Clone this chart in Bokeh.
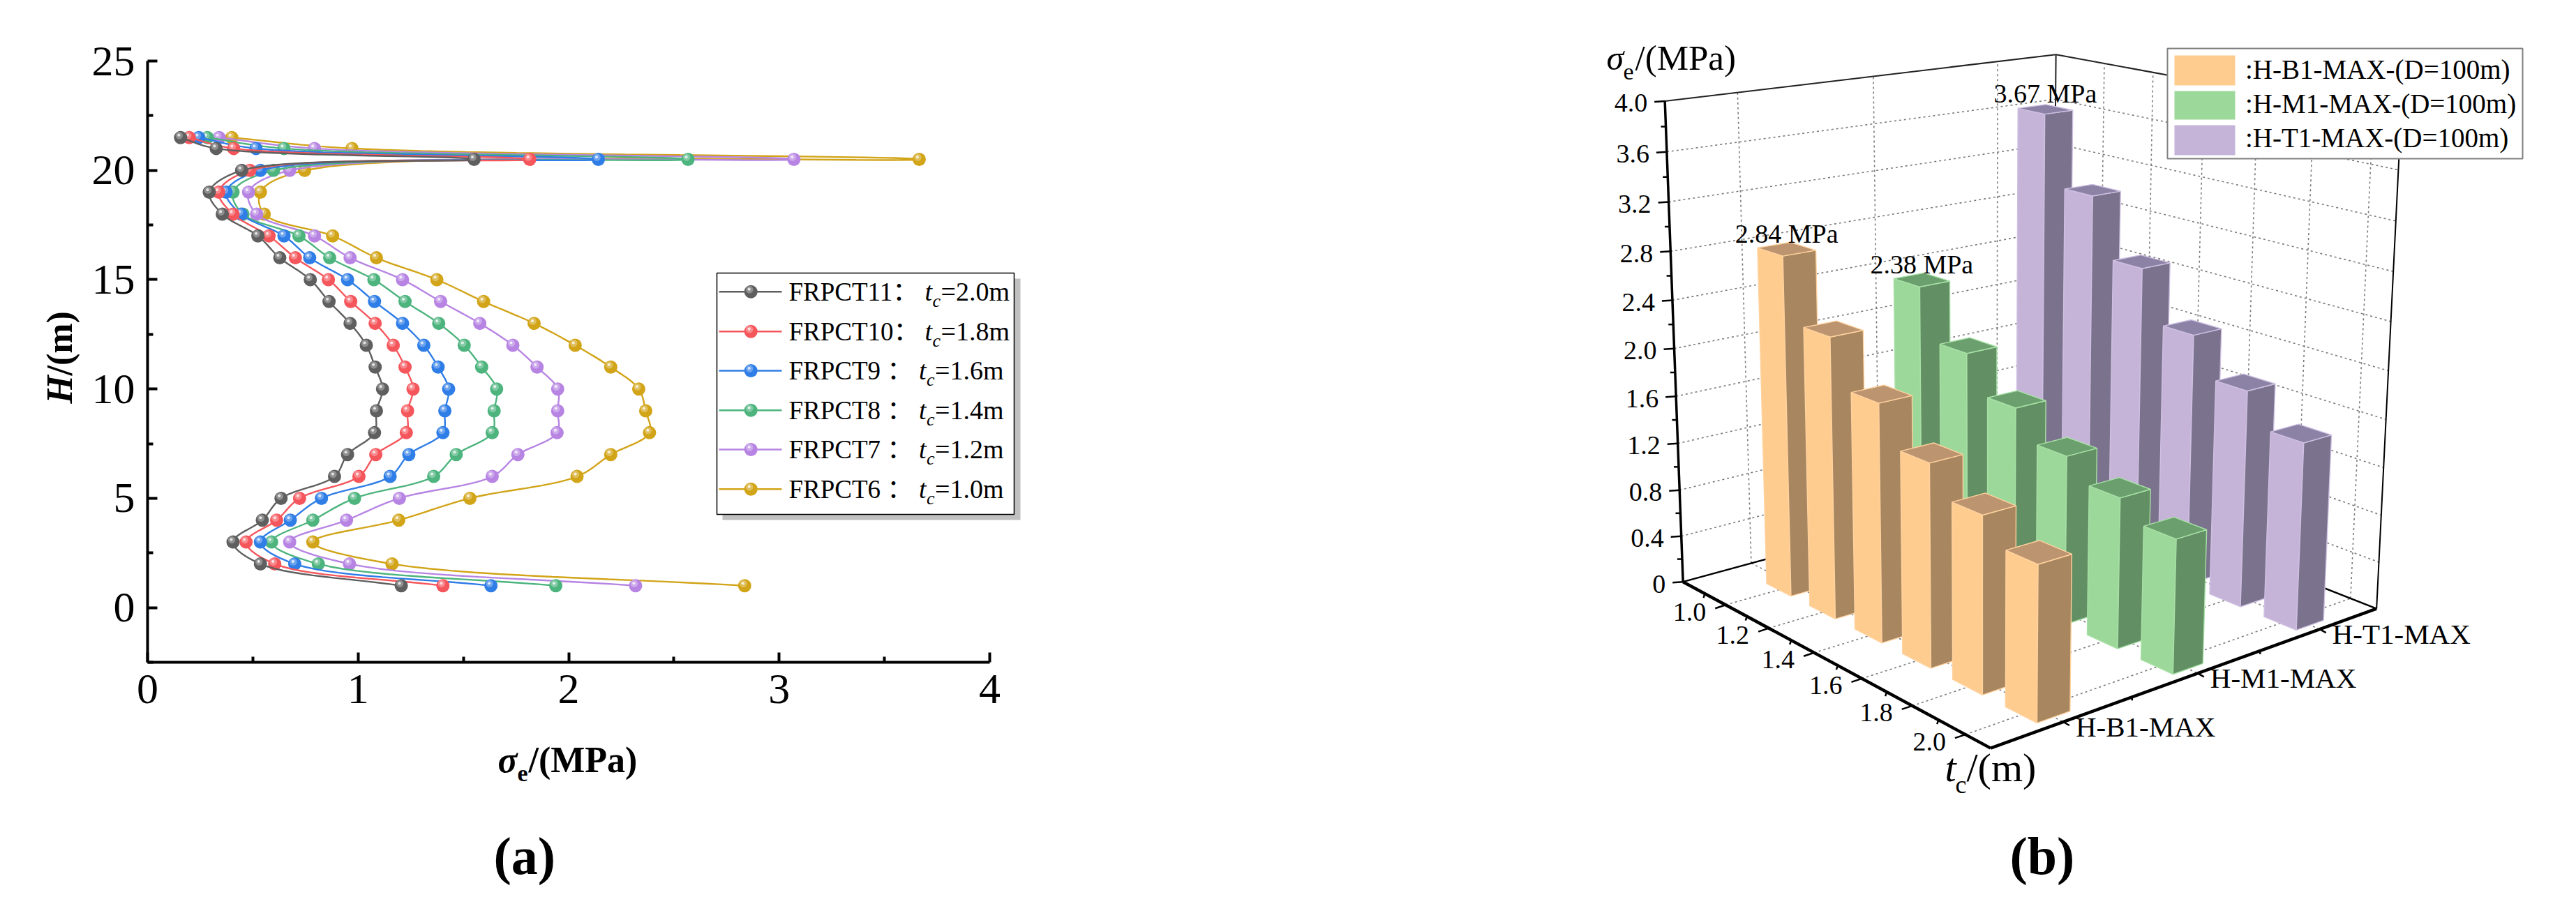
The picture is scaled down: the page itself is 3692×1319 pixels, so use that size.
import numpy as np
from bokeh.core.properties import value
from bokeh.embed import file_html
from bokeh.layouts import row
from bokeh.models import ColumnDataSource, FixedTicker, Range1d
from bokeh.plotting import figure
from bokeh.resources import INLINE

# ---------- data: panel (a) ----------
heights = [1, 2, 3, 4, 5, 6, 7, 8, 9, 10, 11, 12, 13, 14, 15, 16, 17, 18, 19, 20, 20.5, 21, 21.5]
frpct11 = [1.205, 0.536, 0.406, 0.545, 0.634, 0.888, 0.950, 1.078, 1.087, 1.116, 1.081, 1.039, 0.962, 0.862, 0.773, 0.628, 0.524, 0.355, 0.293, 0.447, 1.551, 0.326, 0.157]
frpct10 = [1.403, 0.604, 0.468, 0.613, 0.722, 1.004, 1.084, 1.229, 1.235, 1.261, 1.223, 1.167, 1.081, 0.965, 0.859, 0.702, 0.577, 0.406, 0.338, 0.486, 1.815, 0.409, 0.198]
frpct9 = [1.631, 0.699, 0.536, 0.678, 0.826, 1.152, 1.241, 1.403, 1.412, 1.430, 1.380, 1.312, 1.211, 1.078, 0.950, 0.770, 0.648, 0.444, 0.373, 0.536, 2.141, 0.515, 0.243]
frpct8 = [1.939, 0.811, 0.589, 0.785, 0.983, 1.359, 1.466, 1.637, 1.646, 1.658, 1.587, 1.504, 1.383, 1.223, 1.075, 0.865, 0.719, 0.453, 0.406, 0.598, 2.567, 0.648, 0.284]
frpct7 = [2.318, 0.959, 0.675, 0.945, 1.196, 1.637, 1.759, 1.945, 1.948, 1.948, 1.850, 1.735, 1.578, 1.392, 1.211, 0.962, 0.793, 0.518, 0.480, 0.675, 3.070, 0.793, 0.340]
frpct6 = [2.836, 1.161, 0.785, 1.193, 1.531, 2.040, 2.200, 2.384, 2.366, 2.333, 2.200, 2.031, 1.836, 1.596, 1.374, 1.087, 0.879, 0.554, 0.536, 0.746, 3.665, 0.971, 0.400]
series_names = ["FRPCT11：", "FRPCT10：", "FRPCT9 ：", "FRPCT8 ：", "FRPCT7 ：", "FRPCT6 ："]
series_tc = ["=2.0m", "=1.8m", "=1.6m", "=1.4m", "=1.2m", "=1.0m"]
series_colors = ["#5f5f5f", "#f5565c", "#2f7de6", "#4db47e", "#b784e3", "#d2a418"]
x_ticks = [0, 1, 2, 3, 4]
y_ticks = [0, 5, 10, 15, 20, 25]

# ---------- data: panel (b) ----------
tc_values = [1.0, 1.2, 1.4, 1.6, 1.8, 2.0]
tc_labels = ["1.0", "1.2", "1.4", "1.6", "1.8", "2.0"]
bar_groups = ["H-B1-MAX", "H-M1-MAX", "H-T1-MAX"]
h_b1 = [2.84, 2.32, 1.94, 1.63, 1.40, 1.21]
h_m1 = [2.38, 1.95, 1.64, 1.40, 1.23, 1.08]
h_t1 = [3.67, 3.07, 2.57, 2.14, 1.82, 1.55]
legend_b = [":H-B1-MAX-(D=100m)", ":H-M1-MAX-(D=100m)", ":H-T1-MAX-(D=100m)"]
z_ticks = [0, 0.4, 0.8, 1.2, 1.6, 2.0, 2.4, 2.8, 3.2, 3.6, 4.0]
z_labels = ["0", "0.4", "0.8", "1.2", "1.6", "2.0", "2.4", "2.8", "3.2", "3.6", "4.0"]
bar_face = ["#ffcc90", "#9dd89b", "#c5b4d8"]
bar_side = ["#a88660", "#628f63", "#7b738d"]
bar_top = ["#bc9470", "#6ba06e", "#8b82a5"]
bar_edge = ["#ffd29e", "#a8e0a6", "#cfc0e2"]

SERIF = "Liberation Serif"
ORG = 0                                # page position of the figures' corner as photographed
LW, RW, H = 1840, 3676, 1300
FL, FR, FT, FB = 211, 1418, 87, 949    # frame of panel (a) in page pixels
KX, KY = 4.0 / (FR - FL), 27.5 / (FB - FT)
BASE_FIX = 0.35                        # lifts a text so that its alphabetic baseline lands on the given y


# ---------- panel (a) ----------
def smooth(xs, ys, n=14):
    """Centripetal Catmull-Rom through the points, in pixel-proportional space."""
    sx, sy = 1 / KX, 1 / KY
    P = np.column_stack([np.array(xs) * sx, np.array(ys) * sy])
    P = np.vstack([2 * P[0] - P[1], P, 2 * P[-1] - P[-2]])
    out = []
    for i in range(1, len(P) - 2):
        p0, p1, p2, p3 = P[i - 1], P[i], P[i + 1], P[i + 2]
        t0 = 0.0
        t1 = t0 + np.linalg.norm(p1 - p0) ** 0.5
        t2 = t1 + np.linalg.norm(p2 - p1) ** 0.5
        t3 = t2 + np.linalg.norm(p3 - p2) ** 0.5
        for t in np.linspace(t1, t2, n, endpoint=False):
            a1 = (t1 - t) / (t1 - t0) * p0 + (t - t0) / (t1 - t0) * p1
            a2 = (t2 - t) / (t2 - t1) * p1 + (t - t1) / (t2 - t1) * p2
            a3 = (t3 - t) / (t3 - t2) * p2 + (t - t2) / (t3 - t2) * p3
            b1 = (t2 - t) / (t2 - t0) * a1 + (t - t0) / (t2 - t0) * a2
            b2 = (t3 - t) / (t3 - t1) * a2 + (t - t1) / (t3 - t1) * a3
            out.append((t2 - t) / (t2 - t1) * b1 + (t - t1) / (t2 - t1) * b2)
    out.append(P[-2])
    out = np.array(out)
    return out[:, 0] / sx, out[:, 1] / sy


def sphere(fig, xs, ys, color, kx, ky, size=19):
    xs, ys = np.asarray(xs, float), np.asarray(ys, float)
    fig.scatter(xs, ys, size=size, fill_color=color, line_color=None)
    fig.scatter(xs - 2 * kx, ys + 3 * ky, size=size * 0.55, fill_color="white", fill_alpha=0.3, line_color=None)
    fig.scatter(xs - 2.5 * kx, ys + 3.5 * ky, size=size * 0.22, fill_color="white", fill_alpha=0.75, line_color=None)


a = figure(width=LW, height=H, output_backend="svg", toolbar_location=None,
           x_range=Range1d(0, 4), y_range=Range1d(-2.5, 25), frame_align=False,
           min_border_left=FL - ORG, min_border_right=LW - (FR - ORG),
           min_border_top=FT - ORG, min_border_bottom=H - (FB - ORG))
a.outline_line_color = None
a.grid.visible = False
for ax in (a.xaxis[0], a.yaxis[0]):
    ax.axis_line_width = 4
    ax.axis_line_color = "black"
    ax.major_tick_line_width = 4
    ax.minor_tick_line_width = 4
    ax.major_tick_line_color = "black"
    ax.minor_tick_line_color = "black"
    ax.major_tick_in = 14
    ax.major_tick_out = 0
    ax.minor_tick_in = 8
    ax.minor_tick_out = 0
    ax.major_label_text_font = SERIF
    ax.major_label_text_font_size = "62px"
    ax.major_label_text_color = "black"
a.xaxis[0].ticker = FixedTicker(ticks=x_ticks, minor_ticks=[t + 0.5 for t in x_ticks[:-1]])
a.yaxis[0].ticker = FixedTicker(ticks=y_ticks, minor_ticks=[t + 2.5 for t in y_ticks[:-1]] + [-2.5])
a.xaxis[0].major_label_standoff = 18
a.yaxis[0].major_label_standoff = 18

all_series = [frpct11, frpct10, frpct9, frpct8, frpct7, frpct6]
for vals, col in list(zip(all_series, series_colors))[::-1]:
    sx_, sy_ = smooth(vals, heights)
    a.line(sx_, sy_, line_color=col, line_width=2.4)
    sphere(a, vals, heights, col, KX, KY)

# ---------- overlay in page pixels: panel (b), legends and free texts ----------
corner3 = [(0, 0, 0), (1, 0, 0), (1, 1, 0), (0, 1, 0), (0, 0, 1), (0, 1, 1), (1, 1, 1)]
corner2 = [(2413, 836), (2850.5, 1071), (3407, 872), (2940, 688), (2386, 143), (2945.5, 78), (3441, 170)]
M = []
for (X, Y, Z), (u, v) in zip(corner3, corner2):
    M.append([X, Y, Z, 1, 0, 0, 0, 0, -u * X, -u * Y, -u * Z, -u])
    M.append([0, 0, 0, 0, X, Y, Z, 1, -v * X, -v * Y, -v * Z, -v])
CAM = np.linalg.svd(np.array(M, float))[2][-1].reshape(3, 4)


def proj(u, v, z):
    q = CAM @ np.array([u, v, z / 4.0, 1.0])
    return q[0] / q[2], q[1] / q[2]


def tc_u(tc):
    return 0.16 + (tc - 1.0) * 0.77


def grp_v(j):
    return (j + 0.5) / 3.0


b = figure(width=RW, height=H, output_backend="svg", toolbar_location=None,
           x_range=Range1d(ORG, ORG + RW), y_range=Range1d(ORG + H, ORG), frame_align=False,
           x_axis_type=None, y_axis_type=None, min_border=0, margin=(0, 0, 0, -LW))
b.outline_line_color = None
b.grid.visible = False
b.background_fill_alpha = 0
b.border_fill_alpha = 0


def seg(pairs, **kw):
    xs, ys = [], []
    for p, q in pairs:
        xs.append([p[0], q[0]])
        ys.append([p[1], q[1]])
    b.multi_line(xs, ys, **kw)


def txt(xs, ys, texts, size, style="normal", align="left", baseline="alphabetic", color="black", angle=0.0,
        font=SERIF):
    xs, ys = list(xs), list(ys)
    if baseline == "alphabetic":
        if angle:
            xs = [x - BASE_FIX * size for x in xs]
        else:
            ys = [y - BASE_FIX * size for y in ys]
    b.text(xs, ys, text=texts, text_font=value(font), text_font_size=value(f"{size}px"),
           text_font_style=value(style), text_align=value(align), text_baseline=value(baseline),
           text_color=value(color), angle=angle)


# legend of panel (a)
b.quad(left=[1035], right=[1462], top=[399], bottom=[745], fill_color="#c0c0c0", line_color=None)
b.quad(left=[1027], right=[1453], top=[391], bottom=[737], fill_color="white", line_color="black", line_width=1.5)
row_y = [417.7, 474.7, 531, 587.7, 644, 700.7]
for i, (nm, tc, col) in enumerate(zip(series_names, series_tc, series_colors)):
    yy = row_y[i]
    b.line([1030, 1120], [yy, yy], line_color=col, line_width=2.4)
    sphere(b, [1075.7], [yy], col, 1, -1)
    txt([1130], [yy + 13], [nm], 37, font="Liberation Serif, Noto Sans CJK SC")
    shift = 0 if i < 2 else -8.5
    txt([1325 + shift], [yy + 13], ["t"], 38, style="italic")
    txt([1336 + shift], [yy + 22], ["c"], 26, style="italic")
    txt([1348 + shift], [yy + 13], [tc], 38)

# axis titles and caption of panel (a)
txt([713], [1107], ["σ"], 52, style="bold italic")
txt([741], [1120], ["e"], 34, style="bold")
txt([757], [1107], ["/(MPa)"], 52, style="bold")
txt([103], [578], ["H"], 52, style="bold italic", angle=np.pi / 2)
txt([103], [538], ["/(m)"], 52, style="bold", angle=np.pi / 2)
txt([707], [1253], ["(a)"], 76, style="bold")

# panel (b): walls and floor
grid = []
for z in z_ticks[1:-1]:
    grid.append((proj(0, 0, z), proj(0, 1, z)))
    grid.append((proj(0, 1, z), proj(1, 1, z)))
for j in range(3):
    grid.append((proj(0, grp_v(j), 0), proj(0, grp_v(j), 4)))
    grid.append((proj(0, grp_v(j), 0), proj(1, grp_v(j), 0)))
for tc in tc_values:
    grid.append((proj(tc_u(tc), 1, 0), proj(tc_u(tc), 1, 4)))
    grid.append((proj(tc_u(tc), 0, 0), proj(tc_u(tc), 1, 0)))
seg(grid, line_color="#7a7a7a", line_width=1.6, line_dash="3 4")

seg([(proj(0, 0, 4), proj(0, 1, 4)), (proj(0, 1, 4), proj(1, 1, 4)), (proj(0, 1, 0), proj(0, 1, 4))],
    line_color="#222222", line_width=2)
seg([(proj(1, 1, 0), proj(1, 1, 4))], line_color="black", line_width=2)
seg([(proj(0, 0, 0), proj(0, 1, 0)), (proj(0, 1, 0), proj(1, 1, 0))], line_color="black", line_width=2.5)

# bars, painted from the back to the front
DU, DV = 0.088, 0.078
px_, py_, fc_, lc_ = [], [], [], []
groups = [h_b1, h_m1, h_t1]
for j in (2, 1, 0):
    for i, tc in enumerate(tc_values):
        val = groups[j][i]
        u0, u1 = tc_u(tc) - DU / 2, tc_u(tc) + DU / 2
        v0, v1 = grp_v(j) - DV / 2, grp_v(j) + DV / 2
        faces = [
            ([(u0, v0, 0), (u1, v0, 0), (u1, v0, val), (u0, v0, val)], bar_face[j]),
            ([(u1, v0, 0), (u1, v1, 0), (u1, v1, val), (u1, v0, val)], bar_side[j]),
            ([(u0, v0, val), (u1, v0, val), (u1, v1, val), (u0, v1, val)], bar_top[j]),
        ]
        for pts, col in faces:
            pr = [proj(*p) for p in pts]
            px_.append([q[0] for q in pr])
            py_.append([q[1] for q in pr])
            fc_.append(col)
            lc_.append(bar_edge[j])
b.patches("x", "y", source=ColumnDataSource(dict(x=px_, y=py_, f=fc_, l=lc_)),
          fill_color="f", line_color="l", line_width=1.4)

# peak-value annotations
for j, nm_val in ((0, h_b1[0]), (1, h_m1[0]), (2, h_t1[0])):
    cx, cy = proj(tc_u(tc_values[0]), grp_v(j), nm_val)
    txt([cx], [cy - 9], [f"{nm_val:.2f} MPa"], 38, align="center")

# axes in front
seg([(proj(0, 0, 0), proj(0, 0, 4))], line_color="black", line_width=3.5)
seg([(proj(0, 0, 0), proj(1, 0, 0)), (proj(1, 0, 0), proj(1, 1, 0))], line_color="black", line_width=4.5)

ticks = []
for k, z in enumerate(z_ticks):
    p = proj(0, 0, z)
    ticks.append((p, (p[0] - 15, p[1] + 1)))
    if z < 4:
        p2 = proj(0, 0, z + 0.2)
        ticks.append((p2, (p2[0] - 7, p2[1])))
    txt([p[0] - 25], [p[1] + 3], [z_labels[k]], 38, align="right", baseline="middle")
for k, tc in enumerate(tc_values):
    p = proj(tc_u(tc), 0, 0)
    ticks.append((p, (p[0] - 15, p[1] + 5)))
    p2 = proj(tc_u(tc - 0.1), 0, 0)
    ticks.append((p2, (p2[0] - 2, p2[1] + 6)))
    txt([p[0] - 28], [p[1] + 10], [tc_labels[k]], 38, align="right", baseline="middle")
for j, nm in enumerate(bar_groups):
    p = proj(1, grp_v(j), 0)
    ticks.append((p, (p[0] + 9, p[1] + 5)))
    if j < 2:
        p2 = proj(1, (grp_v(j) + grp_v(j + 1)) / 2, 0)
        ticks.append((p2, (p2[0], p2[1] + 5)))
    txt([p[0] + 18], [p[1] + 7], [nm], 41, baseline="middle")
seg(ticks, line_color="black", line_width=2.5)

# axis titles and caption
txt([2302], [100], ["σ"], 50, style="italic")
txt([2326], [114], ["e"], 34)
txt([2343], [100], ["/(MPa)"], 51)
txt([2787], [1120], ["t"], 58, style="italic")
txt([2802], [1137], ["c"], 36)
txt([2818], [1120], ["/(m)"], 58)
txt([2880], [1253], ["(b)"], 76, style="bold")

# legend of panel (b)
b.quad(left=[3106], right=[3615], top=[69], bottom=[227], fill_color="white", line_color="#808080", line_width=2)
b.quad(left=[3116] * 3, right=[3203] * 3, top=[79, 130, 179], bottom=[122, 171, 222],
       fill_color=bar_face, line_color=None)
txt([3217.5] * 3, [113, 162, 211], legend_b, 39)

page = row(a, b)
open("out.html", "w").write(file_html(page, INLINE))
